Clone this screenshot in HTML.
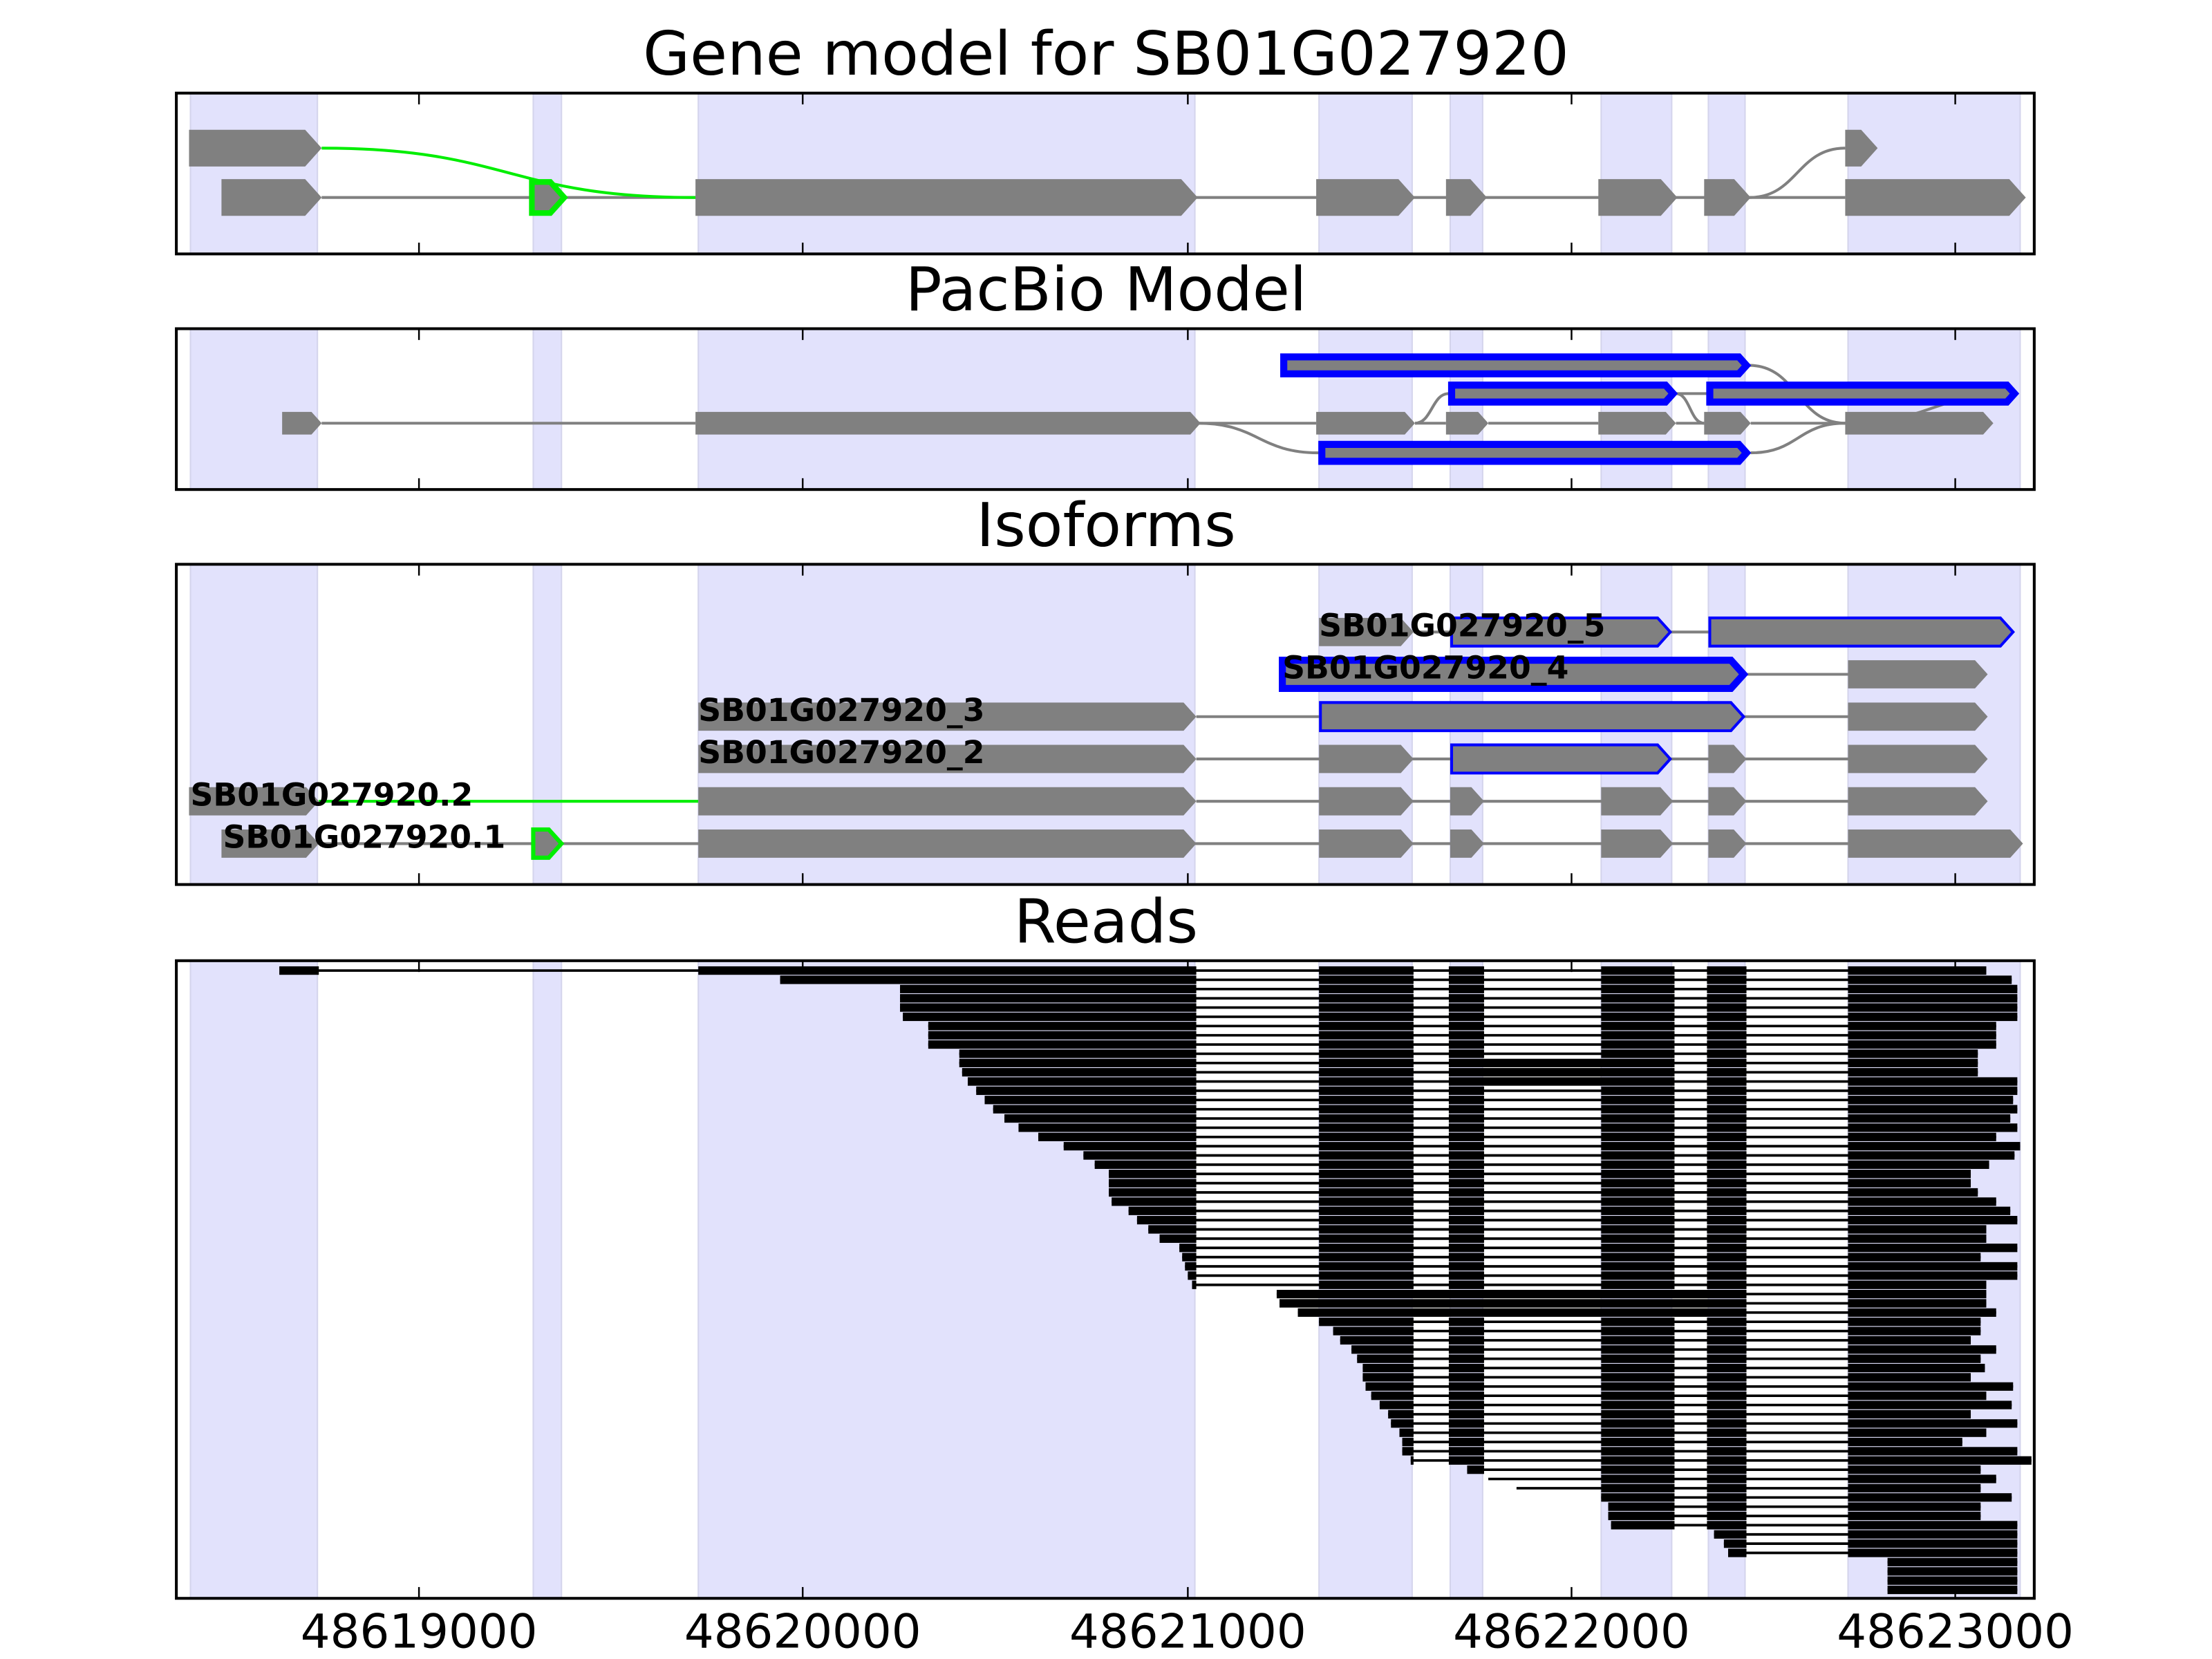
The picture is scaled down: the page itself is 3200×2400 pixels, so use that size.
<!DOCTYPE html>
<html><head><meta charset="utf-8"><style>html,body{margin:0;padding:0;background:#fff}svg{display:block}</style></head>
<body>
<svg id="s" xmlns="http://www.w3.org/2000/svg" width="3200" height="2400" viewBox="0 0 1568 1176" font-family="DejaVu Sans, Liberation Sans, sans-serif">
<rect width="1568" height="1176" fill="#fff"/>
<g id="g"></g>
</svg>
<script>
const g=document.getElementById('g');let h='';
const panels=[[66,180,'Gene model for SB01G027920',53],[233,347,'PacBio Model',220],[400,627,'Isoforms',387],[681,1133,'Reads',668]];
const bands=[[135,225],[378,398],[495,847],[935,1001],[1028,1051],[1135,1185],[1211,1237],[1310,1432]];
const ticks=[297,569,842,1114,1386];
for(const [t,b,title,ty] of panels){
 for(const [a,c] of bands) h+=`<rect x="${a}" y="${t}" width="${c-a}" height="${b-t}" fill="#e2e2fc" stroke="#d4d4ec" stroke-width="1"/>`;
 h+=`<text x="784" y="${ty}" font-size="43" text-anchor="middle">${title}</text>`;
}
function ex(x1,x2,y,hh,fill,stroke,sw){const t=hh*0.45;return `<polygon points="${x1},${y-hh/2} ${x2-t},${y-hh/2} ${x2},${y} ${x2-t},${y+hh/2} ${x1},${y+hh/2}" fill="${fill}" stroke="${stroke||'none'}" stroke-width="${sw||0}"/>`;}
function ln(x1,x2,y,c){return `<line x1="${x1}" y1="${y}" x2="${x2}" y2="${y}" stroke="${c||'#808080'}" stroke-width="2"/>`;}
function cv(x1,y1,x2,y2,c){const m=(x1+x2)/2;return `<path d="M${x1},${y1} C${m},${y1} ${m},${y2} ${x2},${y2}" fill="none" stroke="${c||'#808080'}" stroke-width="2"/>`;}
const G='#808080';
h+=ln(228,1308,140);
h+=cv(228,105,493,140,'#00ee00');
h+=cv(1240,140,1308,105);
h+=ex(134,228,105,26,G);
h+=ex(1308,1331,105,26,G);
for(const [a,b] of [[157,228],[493,849],[933,1003],[1025,1054],[1133,1189],[1208,1241],[1308,1436]]) h+=ex(a,b,140,26,G);
h+=ex(377,400,140,22,G,'#00ee00',4);
h+=ln(228,493,300);h+=ln(849,933,300);h+=ln(1003,1025,300);h+=ln(1055,1133,300);h+=ln(1188,1208,300);h+=ln(1241,1308,300);
h+=cv(849,300,935,321);h+=cv(1241,321,1308,300);h+=cv(1240,259,1308,300);
h+=cv(1003,300,1027,279);h+=cv(1188,279,1208,300);h+=ln(1188,1210,279);h+=cv(1430,279,1308,300);
for(const [a,b] of [[200,228],[493,851],[933,1003],[1025,1055],[1133,1188],[1208,1241],[1308,1413]]) h+=ex(a,b,300,16,G);
h+=ex(910,1238,259,12,G,'#0000ff',5);
h+=ex(1029,1186,279,12,G,'#0000ff',5);
h+=ex(1212,1428,279,12,G,'#0000ff',5);
h+=ex(937,1238,321,12,G,'#0000ff',5);
function iso(y,parts,lines){for(const l of lines)h+=ln(l[0],l[1],y,l[2]);for(const p of parts)h+=ex(p[0],p[1],y,20,p[2]||G,p[3],p[4]);}
const std=[[495,848],[935,1002],[1028,1052],[1135,1186],[1211,1238]];
iso(598,[[157,226],[378,398,G,'#00ee00',3],...std,[1310,1434]],[[226,1310]]);
iso(568,[[134,226],...std,[1310,1409]],[[226,495,'#00ee00'],[848,1310]]);
iso(538,[[495,848],[935,1002],[1029,1184,G,'#0000ff',2],[1211,1238],[1310,1409]],[[848,1310]]);
iso(508,[[495,848],[936,1236,G,'#0000ff',2],[1310,1409]],[[848,1310]]);
iso(478,[[909,1236,G,'#0000ff',5],[1310,1409]],[[1236,1310]]);
iso(448,[[935,1002],[1029,1184,G,'#0000ff',2],[1212,1427,G,'#0000ff',2]],[[1002,1212]]);
const labs=[[158,598,'SB01G027920.1'],[135,568,'SB01G027920.2'],[495,538,'SB01G027920_2'],[495,508,'SB01G027920_3'],[909,478,'SB01G027920_4'],[935,448,'SB01G027920_5']];
for(const [x,y,t] of labs) h+=`<text x="${x}" y="${y+3}" font-size="22.4" font-weight="bold">${t}</text>`;
const starts=[200,553,638,638,638,640,658,658,658,680,680,682,686,692,698,704,712,722,736,754,768,776,786,786,786,788,800,806,814,822,836,838,840,842,845,905,907,920,935,945,950,958,962,966,966,968,972,978,984,986,992,994,994,1000,1040,1055,1075,1135,1140,1140,1142,1215,1222,1225,1338,1338,1338,1338];
const endsP=[1408,1426,1430,1430,1430,1430,1415,1415,1415,1402,1402,1402,1430,1430,1427,1430,1425,1430,1415,1432,1428,1410,1397,1397,1402,1415,1425,1430,1408,1408,1430,1404,1430,1430,1408,1408,1408,1415,1404,1404,1397,1415,1404,1407,1397,1427,1408,1426,1397,1430,1408,1391,1430,1440,1404,1415,1404,1426,1404,1404,1430,1430,1430,1430,1430,1430,1430,1430];
const blocks=[[495,848],[935,1002],[1027,1052],[1135,1187],[1210,1238],[1310,1500]];
const n=starts.length,sp=(1127-688)/(n-1);
for(let i=0;i<n;i++){const y=688+i*sp,s=starts[i],e=endsP[i];
 h+=`<line x1="${s}" y1="${y}" x2="${e}" y2="${y}" stroke="#000" stroke-width="1.8"/>`;
 let bl=blocks.map(b=>b.slice());
 if(i>=10&&i<=12){bl=[[495,848],[935,1002],[1027,1187],[1210,1238],[1310,1500]];}
 if(i>=35&&i<=37){bl=[[495,1238],[1310,1500]];}
 if(i==0){h+=`<rect x="198" y="${y-3}" width="28" height="6" fill="#000"/>`;}
 for(const [a,b] of bl){const x1=Math.max(a,s),x2=Math.min(b,e);if(x2>x1)h+=`<rect x="${x1}" y="${y-3}" width="${x2-x1}" height="6" fill="#000"/>`;}
}
for(const [t,b] of panels){
 h+=`<rect x="125" y="${t}" width="1317" height="${b-t}" fill="none" stroke="#000" stroke-width="2"/>`;
 for(const x of ticks) h+=`<line x1="${x}" y1="${t}" x2="${x}" y2="${t+8}" stroke="#000" stroke-width="1.2"/><line x1="${x}" y1="${b}" x2="${x}" y2="${b-8}" stroke="#000" stroke-width="1.2"/>`;
}
const tl=['48619000','48620000','48621000','48622000','48623000'];
ticks.forEach((x,i)=>h+=`<text x="${x}" y="1168" font-size="33" text-anchor="middle">${tl[i]}</text>`);
g.innerHTML=h;
</script>
</body></html>
